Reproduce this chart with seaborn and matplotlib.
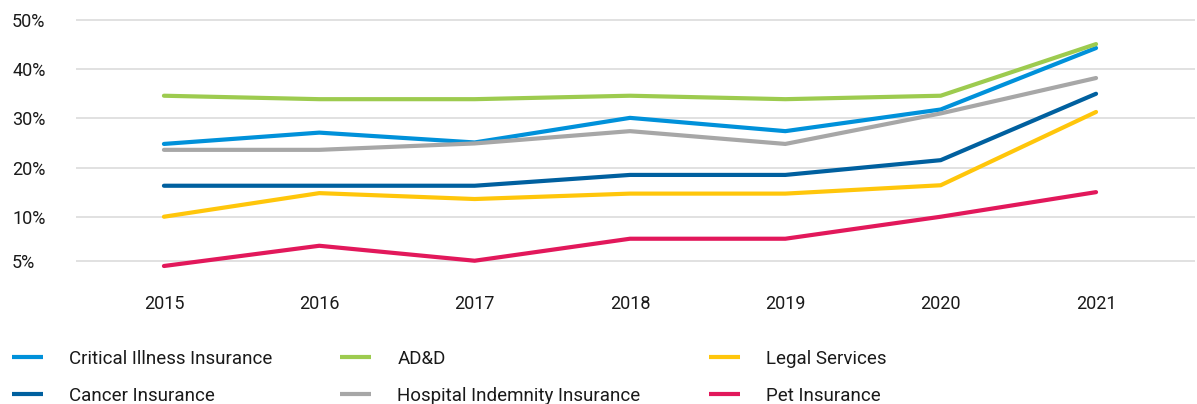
import numpy as np
import pandas as pd
import matplotlib
matplotlib.use("Agg")
import matplotlib.pyplot as plt
import seaborn as sns
from matplotlib.lines import Line2D

years = [2015, 2016, 2017, 2018, 2019, 2020, 2021]
critical_illness = [24.8, 27.1, 25.1, 30.1, 27.4, 31.8, 44.3]
cancer = [16.3, 16.3, 16.3, 18.5, 18.5, 21.5, 35.0]
add = [34.6, 33.9, 33.9, 34.6, 33.9, 34.6, 45.1]
hospital = [23.6, 23.6, 24.9, 27.4, 24.8, 31.0, 38.2]
legal = [10.0, 14.8, 13.6, 14.7, 14.7, 16.4, 31.3]
pet = [4.4, 6.7, 5.0, 7.5, 7.5, 10.0, 15.0]

series_names = ["Critical Illness Insurance", "Cancer Insurance", "AD&D",
                "Hospital Indemnity Insurance", "Legal Services", "Pet Insurance"]
series_values = [critical_illness, cancer, add, hospital, legal, pet]
colors = ["#0091DA", "#00609F", "#9DCB4F", "#A7A7A7", "#FFC60B", "#E2185B"]

ytick_values = [5, 10, 20, 30, 40, 50]
ytick_labels = ["5%", "10%", "20%", "30%", "40%", "50%"]

rows = []
for name, vals in zip(series_names, series_values):
    for y, v in zip(years, vals):
        rows.append({"Year": y, "Value": v, "Series": name})
df = pd.DataFrame(rows)

sns.set_theme(style="white")
plt.rcParams["font.family"] = ["Roboto", "DejaVu Sans"]

W, H = 1197, 404
fig = plt.figure(figsize=(W / 100, H / 100), dpi=100)
# axes in pixel coords: left 76, right 1195, top 10, bottom 280
ax = fig.add_axes([76 / W, 1 - 280 / H, (1195 - 76) / W, (280 - 10) / H])

K = 1.789
def fwd(v):
    v = np.asarray(v, dtype=float)
    return np.where(v >= 10, v, 10 - (10 - v) * K)
def inv(u):
    u = np.asarray(u, dtype=float)
    return np.where(u >= 10, u, 10 - (10 - u) / K)
ax.set_yscale("function", functions=(fwd, inv))

sns.lineplot(data=df, x="Year", y="Value", hue="Series", hue_order=series_names,
             palette=colors, linewidth=3.0, ax=ax, legend=False, sort=False)

ax.set_xlim(2014.434, 2021.637)
ax.set_ylim(2.81, 52.03)
ax.set_yticks(ytick_values)
ax.set_yticklabels(ytick_labels)
ax.set_xticks(years)
ax.set_xticklabels([str(y) for y in years])
ax.grid(axis="y", color="#DCDCDC", linewidth=1.2)
ax.grid(axis="x", visible=False)
ax.set_axisbelow(True)
for s in ax.spines.values():
    s.set_visible(False)
ax.set_xlabel("")
ax.set_ylabel("")
ax.tick_params(axis="y", length=0, pad=46, labelsize=13, labelcolor="#1a1a1a")
ax.tick_params(axis="x", length=0, pad=11, labelsize=13, labelcolor="#1a1a1a")
for t in ax.get_yticklabels():
    t.set_horizontalalignment("left")

handles = [Line2D([0], [0], color=c, linewidth=3, solid_capstyle="butt") for c in colors]
fs = 13.5
fpx = fs * 100 / 72
leg = fig.legend(handles, series_names, ncol=3, loc="upper left",
                 bbox_to_anchor=(12 / W, 1 - 350 / H), frameon=False,
                 fontsize=fs, handlelength=31 / fpx, handletextpad=26 / fpx,
                 columnspacing=3.63, labelspacing=1.0, borderaxespad=0,
                 borderpad=0)
for t in leg.get_texts():
    t.set_color("#1a1a1a")

fig.savefig("out.png", dpi=100)
